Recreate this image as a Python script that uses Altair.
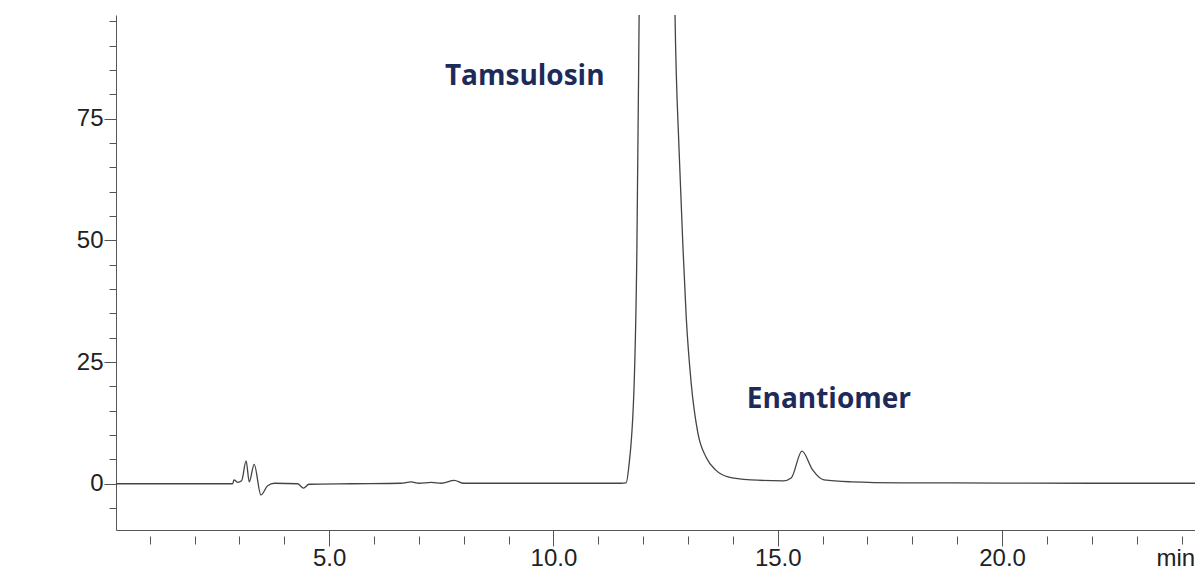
import altair as alt
import pandas as pd

# Chromatogram trace (time in minutes, signal in mAU)
time_min = [0.25, 2.85, 2.88, 2.96, 3.05, 3.15, 3.22, 3.33, 3.48, 3.63, 3.78, 4.30, 4.43, 4.55,
            5.50, 6.60, 6.83, 7.00, 7.28, 7.50, 7.79, 8.00, 8.50, 11.50, 11.62, 11.68, 11.80,
            11.86, 11.91, 11.96, 12.10, 12.30, 12.50, 12.64, 12.71, 12.80, 12.89, 12.96, 13.07,
            13.22, 13.40, 13.62, 13.89, 14.40, 15.12, 15.30, 15.54, 15.78, 16.03, 16.63, 17.75,
            20.00, 22.00, 24.30]
signal = [0.0, 0.0, 0.8, 0.3, 0.6, 4.7, 0.4, 4.0, -2.3, -0.4, 0.1, 0.0, -0.9, -0.1,
          0.0, 0.1, 0.4, 0.1, 0.3, 0.1, 0.7, 0.1, 0.1, 0.1, 0.2, 3.5, 20.7,
          48.0, 96.3, 150.0, 300.0, 380.0, 300.0, 150.0, 96.3, 68.6, 48.0, 34.2, 20.7,
          10.4, 5.5, 2.8, 1.4, 0.8, 0.6, 1.2, 6.7, 2.8, 0.8, 0.4, 0.2,
          0.15, 0.1, 0.1]

x_tick_values = list(range(1, 25))
y_tick_values = list(range(-5, 100, 5))

label_text = ["Tamsulosin", "Enantiomer"]
label_x = [9.36, 16.14]
label_y = [81.9, 15.6]

trace = pd.DataFrame({"t": time_min, "v": signal})
labels = pd.DataFrame({"t": label_x, "v": label_y, "text": label_text})

AXIS_FONT = "Liberation Sans, Arial"
FS = 24

x_major = "datum.value % 5 === 0"
y_major = "datum.value % 25 === 0"

x_enc = alt.X(
    "t:Q",
    scale=alt.Scale(domain=[0.25, 24.30], nice=False, zero=False),
    axis=alt.Axis(
        values=x_tick_values,
        tickCount=60,
        labelExpr=f"{x_major} ? format(datum.value, '.1f') : ''",
        tickSize=16,
        tickDash={"condition": {"test": x_major, "value": []}, "value": [0, 6, 8, 40]},
        tickColor="#555555",
        domainColor="#555555",
        grid=False,
        labelFont=AXIS_FONT,
        labelFontSize={"condition": {"test": x_major, "value": FS}, "value": 1},
        labelColor="#222222",
        labelPadding=0,
        labelOverlap=False,
        labelFlush=False,
        title="min",
        titleX=1040,
        titleY=35,
        titleAlign="left",
        titleBaseline="alphabetic",
        titleFont=AXIS_FONT,
        titleFontSize=FS,
        titleFontWeight="normal",
        titleColor="#222222",
    ),
)
y_enc = alt.Y(
    "v:Q",
    scale=alt.Scale(domain=[-9.5, 96.3], nice=False, zero=False),
    axis=alt.Axis(
        values=y_tick_values,
        tickCount=60,
        labelExpr=f"{y_major} ? format(datum.value, 'd') : ''",
        tickSize=12,
        tickDash={"condition": {"test": y_major, "value": []}, "value": [7, 40]},
        tickColor="#555555",
        domainColor="#555555",
        grid=False,
        labelFont=AXIS_FONT,
        labelFontSize={"condition": {"test": y_major, "value": FS}, "value": 1},
        labelColor="#222222",
        labelPadding=1,
        labelOverlap=False,
        labelFlush=False,
        title=None,
    ),
)

line = alt.Chart(trace).mark_line(
    color="#444444", strokeWidth=1.3, clip=True, interpolate="monotone"
).encode(x=x_enc, y=y_enc)

text = alt.Chart(labels).mark_text(
    font="Open Sans", fontWeight="bold", fontSize=28, color="#1d2b5a",
    align="center", baseline="alphabetic"
).encode(x="t:Q", y="v:Q", text="text:N")

chart = alt.layer(line, text).properties(
    width=1079,
    height=515,
    autosize=alt.AutoSizeParams(type="none"),
    padding={"left": 108, "top": 7, "right": 0, "bottom": 40},
    background="white",
).configure_view(stroke=None)

chart.save("out.html", embed_options={"renderer": "svg", "actions": False})
